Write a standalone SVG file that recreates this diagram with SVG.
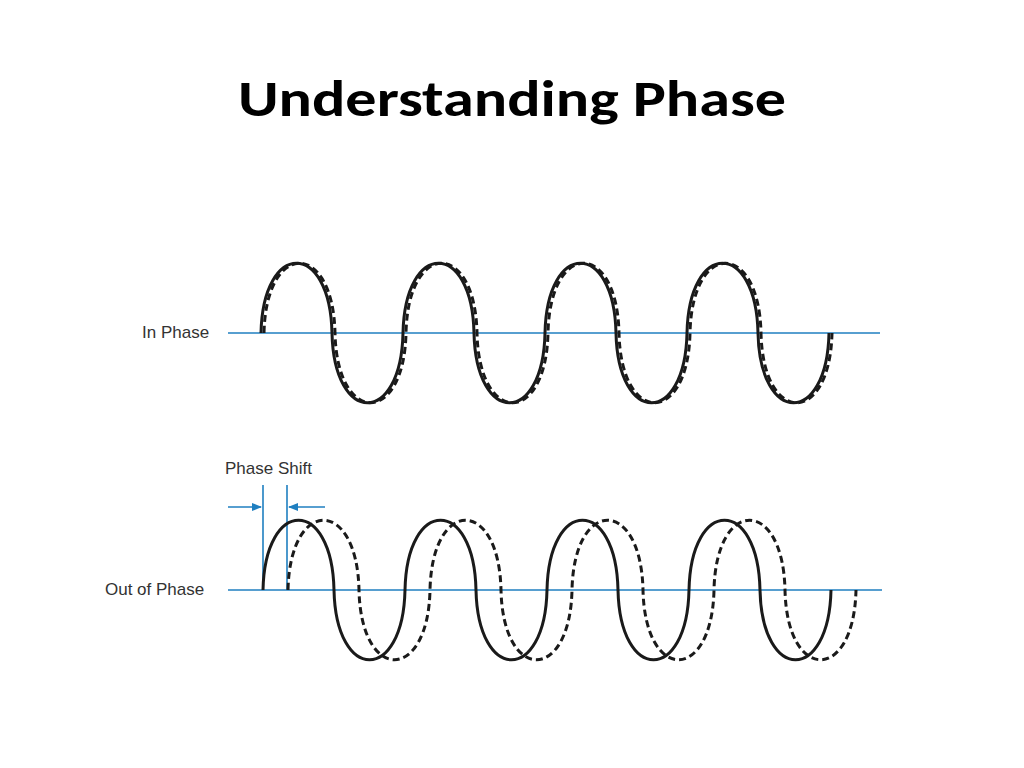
<svg xmlns="http://www.w3.org/2000/svg" width="1024" height="768" viewBox="0 0 1024 768">
<style>
.ax{stroke:#1f7fc0;stroke-width:1.6;fill:none}
.w{stroke:#1a1a1a;stroke-width:3;fill:none}
.d{stroke:#1a1a1a;stroke-width:3;fill:none;stroke-dasharray:7 4}
.lb{font-family:"Liberation Sans",Arial,sans-serif;font-size:17px;fill:#333}
</style>
<defs>
<marker id="ar" markerWidth="10" markerHeight="8" refX="9" refY="4" orient="auto" markerUnits="userSpaceOnUse"><path d="M0,0 L10,4 L0,8 Z" fill="#1f7fc0"/></marker>
</defs>
<rect width="1024" height="768" fill="#fff"/>
<text x="512" y="116" text-anchor="middle" font-family="Carlito,'Liberation Sans',sans-serif" font-weight="bold" font-size="50" textLength="548" lengthAdjust="spacingAndGlyphs" fill="#000">Understanding Phase</text>
<g id="connectors">
<line class="ax" x1="228" y1="333" x2="880" y2="333"/>
<line class="ax" x1="228" y1="590" x2="882" y2="590"/>
<line class="ax" x1="263" y1="485" x2="263" y2="590"/>
<line class="ax" x1="287" y1="485" x2="287" y2="590"/>
<line class="ax" x1="228" y1="507" x2="261" y2="507" marker-end="url(#ar)"/>
<line class="ax" x1="325" y1="507" x2="289" y2="507" marker-end="url(#ar)"/>
</g>
<g id="in-phase">
<text class="lb" x="142" y="338">In Phase</text>
<path class="d" d="M264,333 c2,-93 69,-93 71,0 c2,93 69,93 71,0 c2,-93 69,-93 71,0 c2,93 69,93 71,0 c2,-93 69,-93 71,0 c2,93 69,93 71,0 c2,-93 69,-93 71,0 c2,93 69,93 71,0"/>
<path class="w" d="M261,333 c2,-93 69,-93 71,0 c2,93 69,93 71,0 c2,-93 69,-93 71,0 c2,93 69,93 71,0 c2,-93 69,-93 71,0 c2,93 69,93 71,0 c2,-93 69,-93 71,0 c2,93 69,93 71,0"/>
</g>
<g id="out-of-phase">
<text class="lb" x="105" y="595">Out of Phase</text>
<text class="lb" x="225" y="474">Phase Shift</text>
<path class="d" d="M288,590 c2,-93 69,-93 71,0 c2,93 69,93 71,0 c2,-93 69,-93 71,0 c2,93 69,93 71,0 c2,-93 69,-93 71,0 c2,93 69,93 71,0 c2,-93 69,-93 71,0 c2,93 69,93 71,0"/>
<path class="w" d="M263,590 c2,-93 69,-93 71,0 c2,93 69,93 71,0 c2,-93 69,-93 71,0 c2,93 69,93 71,0 c2,-93 69,-93 71,0 c2,93 69,93 71,0 c2,-93 69,-93 71,0 c2,93 69,93 71,0"/>
</g>
</svg>
